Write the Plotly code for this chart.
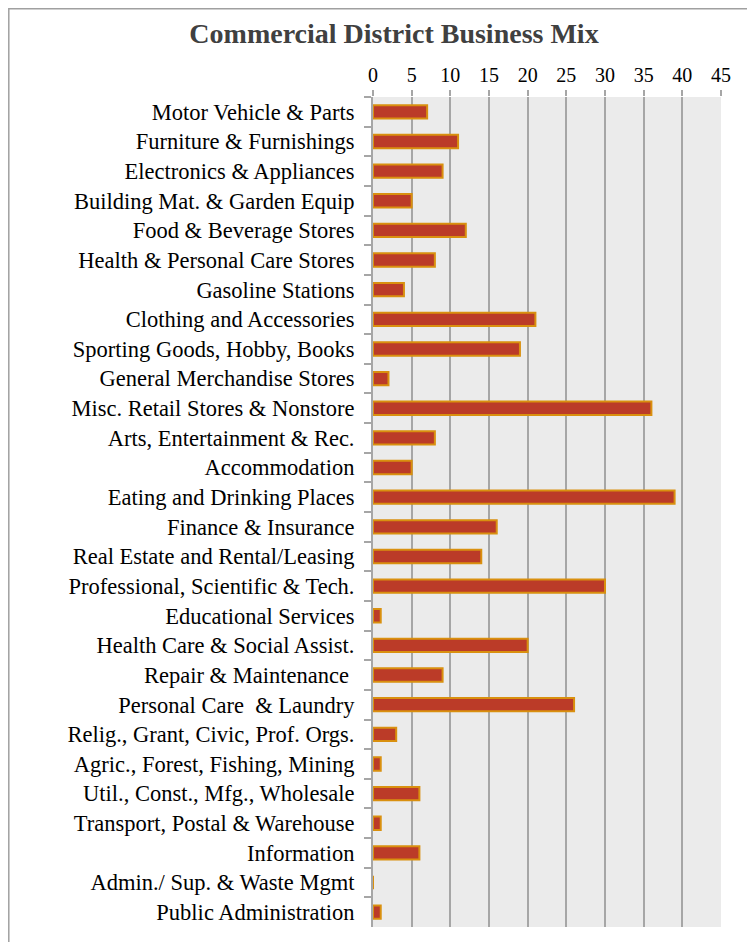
import plotly.graph_objects as go

categories = [
    "Motor Vehicle & Parts", "Furniture & Furnishings", "Electronics & Appliances",
    "Building Mat. & Garden Equip", "Food & Beverage Stores", "Health & Personal Care Stores",
    "Gasoline Stations", "Clothing and Accessories", "Sporting Goods, Hobby, Books",
    "General Merchandise Stores", "Misc. Retail Stores & Nonstore", "Arts, Entertainment & Rec.",
    "Accommodation", "Eating and Drinking Places", "Finance & Insurance",
    "Real Estate and Rental/Leasing", "Professional, Scientific & Tech.", "Educational Services",
    "Health Care & Social Assist.", "Repair & Maintenance ", "Personal Care  & Laundry",
    "Relig., Grant, Civic, Prof. Orgs.", "Agric., Forest, Fishing, Mining",
    "Util., Const., Mfg., Wholesale", "Transport, Postal & Warehouse", "Information",
    "Admin./ Sup. & Waste Mgmt", "Public Administration",
]
values = [7, 11, 9, 5, 12, 8, 4, 21, 19, 2, 36, 8, 5, 39, 16, 14, 30, 1, 20, 9, 26, 3, 1, 6, 1, 6, 0, 1]
x_ticks = [0, 5, 10, 15, 20, 25, 30, 35, 40, 45]

# page has an 8px body margin; figure is sized to fit inside it
W, H = 747, 934
ml, mr, mt, mb = 365, 34, 89, 15
FONT = "Liberation Serif, serif"

fig = go.Figure(go.Bar(
    y=categories, x=values, orientation="h",
    marker=dict(color="#bb3b28", line=dict(color="#d9900f", width=2)),
    width=0.45,
))

fig.update_layout(
    width=W, height=H,
    margin=dict(l=ml, r=mr, t=mt, b=mb),
    paper_bgcolor="white", plot_bgcolor="#ebebeb",
    showlegend=False,
    font=dict(family=FONT, color="black"),
    title=dict(text="<b>Commercial District Business Mix</b>",
               font=dict(family=FONT, size=28, color="#404040"),
               x=(394 - 8) / W, xanchor="center", xref="container",
               y=1 - 25 / H, yanchor="middle", yref="container"),
    xaxis=dict(side="top", range=[0, 45], tickvals=x_ticks, showgrid=True,
               gridcolor="#a6a6a6", gridwidth=2, zeroline=False,
               ticks="outside", ticklen=6, tickcolor="#a6a6a6", tickwidth=2,
               tickfont=dict(size=20, color="black"), showline=False, fixedrange=True,
               automargin=False),
    yaxis=dict(autorange="reversed", tickson="boundaries", ticks="outside", ticklen=7,
               tickcolor="#a6a6a6", tickwidth=2, showline=True, linecolor="#a6a6a6",
               linewidth=2, tickfont=dict(size=22.5, color="black"), showgrid=False,
               ticklabelstandoff=12, fixedrange=True, automargin=False),
)

pw = W - ml - mr
ph = H - mt - mb
fig.add_shape(type="rect", xref="paper", yref="paper",
              x0=(0.8 - ml) / pw, x1=(744 - ml) / pw,
              y0=(H - mb - 960) / ph, y1=(H - mb - 0.8) / ph,
              line=dict(color="#a0a0a0", width=1.5), fillcolor="rgba(0,0,0,0)", layer="below")

fig.write_html("out.html")
